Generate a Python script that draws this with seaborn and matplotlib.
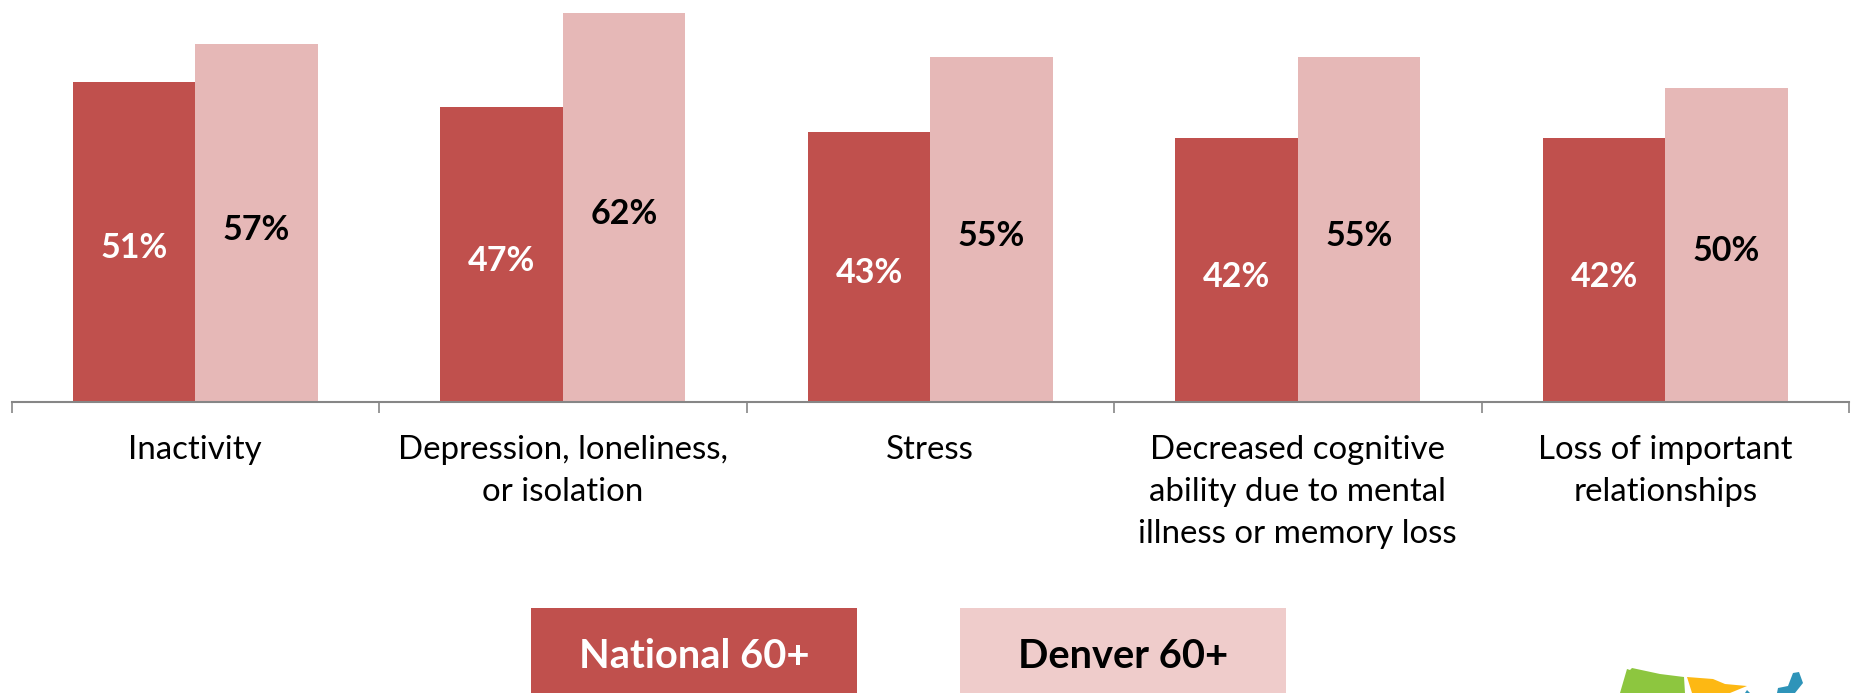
import matplotlib
matplotlib.use('Agg')
import matplotlib.pyplot as plt
from matplotlib.patches import Polygon, Rectangle
import pandas as pd
import seaborn as sns

categories = ['Inactivity', 'Depression, loneliness,\nor isolation', 'Stress',
              'Decreased cognitive\nability due to mental\nillness or memory loss',
              'Loss of important\nrelationships']
national = [51, 47, 43, 42, 42]
denver = [57, 62, 55, 55, 50]
series_names = ['National 60+', 'Denver 60+']
bar_colors = ['#C0504D', '#E6B8B7']
legend_colors = ['#C0504D', '#EFCCCB']
label_colors = ['white', 'black']

W, H = 1853, 693

sns.set_theme(style='white')
plt.rcParams['font.family'] = ['Lato', 'DejaVu Sans']

df = pd.DataFrame({
    'category': categories * 2,
    'group': [series_names[0]] * 5 + [series_names[1]] * 5,
    'value': national + denver,
})

fig = plt.figure(figsize=(W / 100, H / 100), dpi=100)
ax = fig.add_axes([11.5 / W, (H - 402) / H, 1837.5 / W, 402 / H])
sns.barplot(data=df, x='category', y='value', hue='group', palette=bar_colors,
            saturation=1, width=2 / 3, gap=0, legend=False, ax=ax)

ax.set_xlim(-0.5, 4.5)
ax.set_ylim(0, 64.0)
ax.set_xlabel('')
ax.set_ylabel('')
ax.set_yticks([])
sns.despine(ax=ax, left=True)
ax.spines['bottom'].set_color('#868686')
ax.spines['bottom'].set_linewidth(1.5)

# ticks sit between the categories, labels in the middle
ax.set_xticks([i - 0.5 for i in range(6)], labels=[])
ax.set_xticks(range(5), labels=categories, minor=True)
ax.tick_params(axis='x', which='major', length=8, width=1.2, color='#868686', bottom=True)
ax.tick_params(axis='x', which='minor', length=0, pad=24, labelsize=23.8, labelcolor='black')
for t in ax.get_xticklabels(minor=True):
    t.set_linespacing(1.5)
    t.set_ha('center')
    t.set_va('top')

for cont, c in zip(ax.containers, label_colors):
    ax.bar_label(cont, fmt='%d%%', label_type='center', color=c, fontsize=24.5,
                 fontweight='bold', padding=-4.7)
    for bar in cont:
        bar.set_linewidth(0)

# legend boxes
boxes = [(531, 857), (960, 1286)]
for (x0, x1), name, fc, tc in zip(boxes, series_names, legend_colors, label_colors):
    fig.add_artist(Rectangle((x0 / W, 0), (x1 - x0) / W, 85 / H, transform=fig.transFigure,
                             facecolor=fc, edgecolor='none'))
    fig.text((x0 + x1) / 2 / W, 37 / H, name, color=tc, fontsize=28.7, fontweight='bold',
             ha='center', va='center')

# bit of the map logo cut off at the corner
logo = [
    ('#8DC63F', [(1620, 693), (1627, 669), (1630, 670), (1632, 668), (1660, 674), (1684, 677), (1685, 693)]),
    ('#FDB813', [(1687, 677), (1713, 679), (1725, 684), (1747, 686), (1730, 693), (1692, 693)]),
    ('#2E94B9', [(1745, 693), (1747, 690), (1750, 693)]),
    ('#2E94B9', [(1777, 693), (1778, 688), (1788, 686), (1793, 673), (1799, 672), (1803, 683), (1795, 693)]),
]
for color, pts in logo:
    fig.add_artist(Polygon([(x / W, (H - y) / H) for x, y in pts], closed=True,
                           transform=fig.transFigure, facecolor=color, edgecolor='none'))

fig.savefig('out.png', dpi=100)
